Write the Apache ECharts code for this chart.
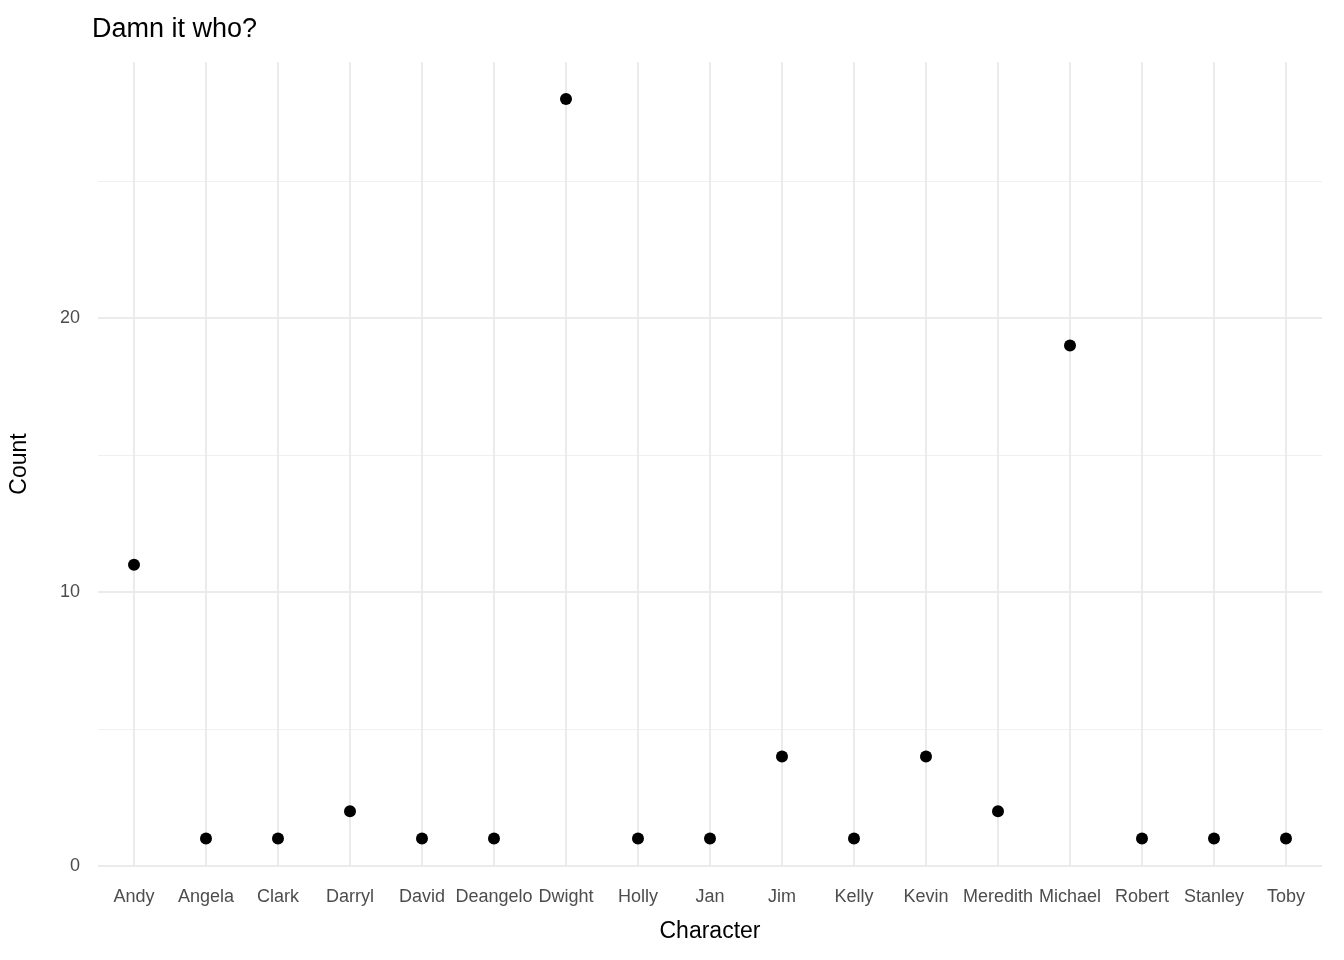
<!DOCTYPE html>
<html>
<head>
<meta charset="utf-8">
<script src="https://cdn.jsdelivr.net/npm/echarts@6/dist/echarts.min.js"></script>
<style>html,body{margin:0;padding:0;background:#fff}#c{width:1344px;height:960px}</style>
</head>
<body>
<div id="c"></div>
<script>
// characters and counts
const characters = ["Andy","Angela","Clark","Darryl","David","Deangelo","Dwight","Holly","Jan","Jim","Kelly","Kevin","Meredith","Michael","Robert","Stanley","Toby"];
const counts = [11,1,1,2,1,1,28,1,1,4,1,4,2,19,1,1,1];
const yTicks = [0, 10, 20];

const chart = echarts.init(document.getElementById("c"));
const font = "Liberation Sans, Arial, sans-serif";
chart.setOption({
  animation: false,
  title: {
    text: "Damn it who?", left: 87, top: 11,
    textStyle: { fontFamily: font, fontSize: 27, fontWeight: "normal", color: "#000" }
  },
  grid: { left: 95, right: 22, top: 62, bottom: 94 },
  xAxis: {
    type: "category", data: characters,
    name: "Character", nameLocation: "middle", nameGap: 54,
    nameTextStyle: { fontFamily: font, fontSize: 23, color: "#000" },
    axisLine: { show: false }, axisTick: { show: false },
    axisLabel: { fontFamily: font, fontSize: 18, color: "#4d4d4d", margin: 22, interval: 0 },
    splitLine: { show: false }
  },
  yAxis: {
    type: "value", min: 0, max: 29.35, interval: 10,
    name: "Count", nameLocation: "middle", nameGap: 67,
    nameTextStyle: { fontFamily: font, fontSize: 23, color: "#000" },
    axisLine: { show: false }, axisTick: { show: false },
    axisLabel: {
      fontFamily: font, fontSize: 18, color: "#4d4d4d", margin: 18,
      formatter: v => (yTicks.indexOf(v) >= 0 ? String(v) : "")
    },
    splitLine: { showMaxLine: false, lineStyle: { color: "#ebebeb", width: 2 } },
    minorTick: { show: false, splitNumber: 2 },
    minorSplitLine: { show: true, lineStyle: { color: "#f0f0f0", width: 1 } }
  },
  series: [
    {
      type: "line", data: [], z: 1, silent: true,
      markLine: {
        symbol: "none", silent: true, label: { show: false },
        lineStyle: { color: "#ebebeb", width: 2, type: "solid" },
        data: characters.map(c => ({ xAxis: c }))
      }
    },
    {
      type: "scatter", z: 5, symbolSize: 12,
      itemStyle: { color: "#000", opacity: 1 },
      data: counts
    }
  ]
});
</script>
</body>
</html>
